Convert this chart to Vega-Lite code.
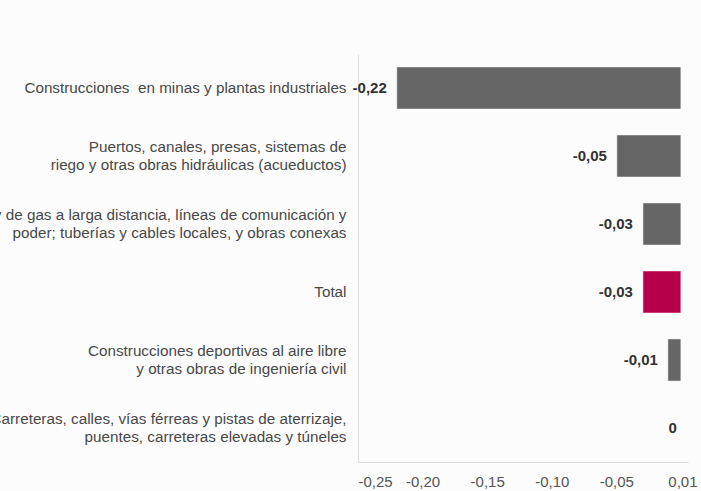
{
  "$schema": "https://vega.github.io/schema/vega-lite/v6.json",
  "width": 330,
  "height": 408,
  "autosize": {"type": "none"},
  "padding": {"left": 358, "top": 54, "right": 13, "bottom": 29},
  "background": "#fcfcfc",
  "config": {"view": {"stroke": null}, "font": "Liberation Sans"},
  "data": {
    "values": [
      {"cat": "Construcciones\u00a0 en minas y plantas industriales", "value": -0.22},
      {"cat": "Puertos, canales, presas, sistemas de\nriego y otras obras hidráulicas (acueductos)", "value": -0.0496},
      {"cat": "Tuberías de petróleo y de gas a larga distancia, líneas de comunicación y\npoder; tuberías y cables locales, y obras conexas", "value": -0.0294},
      {"cat": "Total", "value": -0.0294},
      {"cat": "Construcciones deportivas al aire libre\ny otras obras de ingeniería civil", "value": -0.0101},
      {"cat": "Carreteras, calles, vías férreas y pistas de aterrizaje,\npuentes, carreteras elevadas y túneles", "value": 0}
    ]
  },
  "transform": [
    {"calculate": "datum.value == 0 ? '0' : replace(replace(format(datum.value, '.2f'), '.', ','), '\u2212', '-')", "as": "label"}
  ],
  "encoding": {
    "y": {
      "field": "cat",
      "type": "nominal",
      "sort": null,
      "scale": {"paddingInner": 0.38, "paddingOuter": 0.19},
      "axis": {
        "title": null,
        "ticks": false,
        "domainColor": "#dedede",
        "labelFontSize": 15.25,
        "labelColor": "#484848",
        "labelLimit": 1000,
        "labelPadding": 12,
        "labelLineHeight": 18,
        "labelOffset": {"condition": {"test": "indexof(datum.value, '\\n') >= 0", "value": -9}, "value": 0},
        "labelExpr": "split(datum.label, '\\n')"
      }
    },
    "x": {
      "field": "value",
      "type": "quantitative",
      "scale": {"domain": [-0.25, 0.0055], "nice": false, "zero": false},
      "axis": {
        "title": null,
        "grid": false,
        "ticks": false,
        "domainColor": "#d9d9d9",
        "labelFontSize": 15,
        "labelColor": "#555555",
        "labelPadding": 12,
        "values": [-0.25, -0.2, -0.15, -0.1, -0.05, 0.0012],
        "labelExpr": "datum.value > 0 ? '0,01' : replace(replace(format(datum.value, '.2f'), '.', ','), '\u2212', '-')"
      }
    }
  },
  "layer": [
    {
      "transform": [{"filter": "datum.value != 0"}],
      "mark": {"type": "bar", "stroke": "#ffffff", "strokeOpacity": 0.55, "strokeWidth": 1},
      "encoding": {
        "color": {
          "condition": {"test": "datum.cat == 'Total'", "value": "#b8004a"},
          "value": "#666666"
        }
      }
    },
    {
      "transform": [{"filter": "datum.value != 0"}],
      "mark": {"type": "text", "align": "right", "baseline": "middle", "dx": -10, "fontSize": 15, "fontWeight": "bold", "color": "#333333"},
      "encoding": {"text": {"field": "label"}}
    },
    {
      "transform": [{"filter": "datum.value == 0"}],
      "mark": {"type": "text", "align": "right", "baseline": "middle", "dx": -4, "fontSize": 15, "fontWeight": "bold", "color": "#333333"},
      "encoding": {"text": {"field": "label"}}
    }
  ]
}
